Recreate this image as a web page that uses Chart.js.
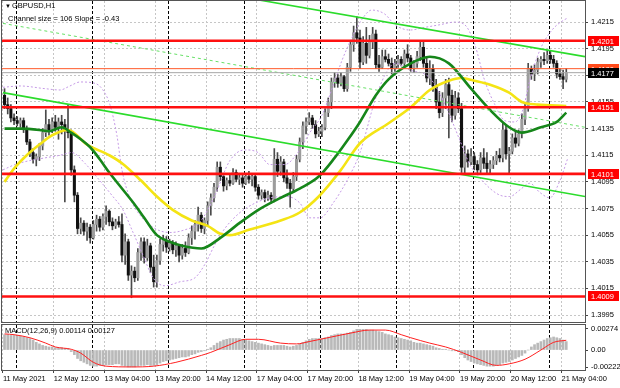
<!DOCTYPE html>
<html>
<head>
<meta charset="utf-8">
<script src="https://cdn.jsdelivr.net/npm/chart.js@4.4.0/dist/chart.umd.min.js"></script>
<style>
    body { margin: 0; background: #fff; }
    #wrap { position: relative; width: 620px; height: 388px; overflow: hidden; }
    #main { position: absolute; left: 0; top: 0; }
    #macd { position: absolute; left: 0; top: 323px; }
</style>
</head>
<body>
<div id="wrap">
    <canvas id="main" width="620" height="324"></canvas>
    <canvas id="macd" width="620" height="65"></canvas>
</div>
<script>
// --- dados (GBPUSD H1, 11 May 20:00 .. 21 May 05:00) ---
const opens = [
    1.4160,1.4153,1.4150,1.4143,1.4141,1.4139,1.4141,1.4135,1.4125,1.4117,
    1.4112,1.4114,1.4122,1.4132,1.4138,1.4134,1.4140,1.4136,1.4140,1.4138,
    1.4134,1.4132,1.4104,1.4085,1.4060,1.4064,1.4058,1.4061,1.4053,1.4063,
    1.4067,1.4061,1.4069,1.4073,1.4065,1.4062,1.4065,1.4063,1.4040,1.4050,
    1.4025,1.4028,1.4023,1.4042,1.4050,1.4038,1.4047,1.4031,1.4020,1.4036,
    1.4048,1.4051,1.4046,1.4049,1.4044,1.4047,1.4040,1.4045,1.4042,1.4053,
    1.4058,1.4063,1.4070,1.4060,1.4066,1.4077,1.4083,1.4091,1.4106,1.4099,
    1.4092,1.4096,1.4094,1.4102,1.4097,1.4098,1.4094,1.4099,1.4097,1.4099,
    1.4091,1.4085,1.4087,1.4083,1.4085,1.4082,1.4112,1.4103,1.4110,1.4098,
    1.4094,1.4090,1.4099,1.4112,1.4125,1.4137,1.4140,1.4143,1.4138,1.4131,
    1.4133,1.4136,1.4147,1.4155,1.4170,1.4173,1.4169,1.4174,1.4165,1.4181,
    1.4198,1.4207,1.4203,1.4185,1.4199,1.4190,1.4200,1.4206,1.4183,1.4181,
    1.4189,1.4187,1.4184,1.4180,1.4183,1.4187,1.4184,1.4191,1.4188,1.4180,
    1.4184,1.4189,1.4196,1.4184,1.4173,1.4180,1.4167,1.4155,1.4147,1.4158,
    1.4168,1.4160,1.4145,1.4158,1.4150,1.4106,1.4116,1.4110,1.4114,1.4108,
    1.4104,1.4113,1.4109,1.4105,1.4108,1.4111,1.4115,1.4113,1.4134,1.4116,
    1.4118,1.4128,1.4124,1.4131,1.4142,1.4150,1.4180,1.4176,1.4179,1.4185,
    1.4187,1.4186,1.4190,1.4187,1.4184,1.4176,1.4174,1.4172
];
const highs = [
    1.4165,1.4158,1.4153,1.4146,1.4144,1.4143,1.4143,1.4137,1.4127,1.4120,
    1.4116,1.4124,1.4135,1.4149,1.4142,1.4143,1.4145,1.4143,1.4145,1.4142,
    1.4153,1.4134,1.4107,1.4087,1.4068,1.4066,1.4064,1.4063,1.4066,1.4070,
    1.4069,1.4071,1.4077,1.4074,1.4068,1.4067,1.4069,1.4071,1.4056,1.4052,
    1.4032,1.4031,1.4045,1.4053,1.4053,1.4052,1.4049,1.4040,1.4040,1.4052,
    1.4055,1.4054,1.4052,1.4051,1.4050,1.4048,1.4048,1.4050,1.4056,1.4062,
    1.4066,1.4076,1.4072,1.4068,1.4080,1.4086,1.4094,1.4110,1.4110,1.4101,
    1.4098,1.4101,1.4105,1.4104,1.4101,1.4100,1.4101,1.4103,1.4101,1.4101,
    1.4093,1.4089,1.4089,1.4088,1.4087,1.4120,1.4117,1.4114,1.4112,1.4104,
    1.4097,1.4102,1.4115,1.4128,1.4140,1.4143,1.4147,1.4145,1.4141,1.4136,
    1.4138,1.4150,1.4158,1.4173,1.4177,1.4176,1.4177,1.4175,1.4184,1.4201,
    1.4212,1.4219,1.4209,1.4204,1.4211,1.4205,1.4211,1.4209,1.4190,1.4194,
    1.4194,1.4191,1.4188,1.4187,1.4190,1.4189,1.4194,1.4198,1.4190,1.4186,
    1.4193,1.4200,1.4200,1.4188,1.4186,1.4183,1.4172,1.4163,1.4162,1.4172,
    1.4173,1.4164,1.4163,1.4162,1.4154,1.4122,1.4119,1.4120,1.4117,1.4111,
    1.4117,1.4120,1.4117,1.4111,1.4114,1.4118,1.4120,1.4139,1.4137,1.4121,
    1.4131,1.4133,1.4134,1.4146,1.4154,1.4184,1.4182,1.4183,1.4188,1.4189,
    1.4192,1.4194,1.4193,1.4190,1.4186,1.4180,1.4179,1.4180
];
const lows = [
    1.4150,1.4146,1.4140,1.4138,1.4137,1.4136,1.4132,1.4123,1.4114,1.4109,
    1.4107,1.4111,1.4119,1.4129,1.4130,1.4132,1.4133,1.4127,1.4131,1.4080,
    1.4128,1.4100,1.4080,1.4056,1.4056,1.4055,1.4051,1.4049,1.4052,1.4058,
    1.4058,1.4059,1.4063,1.4062,1.4059,1.4060,1.4061,1.4035,1.4033,1.4021,
    1.4008,1.4020,1.4021,1.4036,1.4034,1.4036,1.4027,1.4016,1.4016,1.4033,
    1.4043,1.4042,1.4043,1.4041,1.4039,1.4035,1.4037,1.4039,1.4041,1.4048,
    1.4052,1.4058,1.4057,1.4056,1.4062,1.4070,1.4080,1.4088,1.4096,1.4088,
    1.4089,1.4092,1.4093,1.4095,1.4093,1.4091,1.4093,1.4094,1.4092,1.4088,
    1.4082,1.4082,1.4080,1.4081,1.4079,1.4080,1.4099,1.4100,1.4095,1.4090,
    1.4076,1.4087,1.4096,1.4110,1.4120,1.4131,1.4138,1.4135,1.4128,1.4129,
    1.4129,1.4134,1.4144,1.4150,1.4166,1.4166,1.4167,1.4163,1.4163,1.4178,
    1.4193,1.4199,1.4180,1.4183,1.4184,1.4188,1.4195,1.4180,1.4178,1.4180,
    1.4185,1.4182,1.4176,1.4178,1.4181,1.4182,1.4182,1.4185,1.4178,1.4177,
    1.4181,1.4186,1.4181,1.4170,1.4168,1.4163,1.4150,1.4143,1.4144,1.4150,
    1.4128,1.4140,1.4142,1.4147,1.4102,1.4101,1.4106,1.4108,1.4104,1.4101,
    1.4102,1.4105,1.4101,1.4102,1.4105,1.4108,1.4110,1.4110,1.4112,1.4101,
    1.4116,1.4121,1.4122,1.4128,1.4138,1.4148,1.4172,1.4171,1.4176,1.4181,
    1.4183,1.4184,1.4184,1.4181,1.4173,1.4172,1.4165,1.4170
];
const closes = [
    1.4153,1.4150,1.4143,1.4141,1.4139,1.4141,1.4135,1.4125,1.4117,1.4112,
    1.4114,1.4122,1.4132,1.4138,1.4134,1.4140,1.4136,1.4140,1.4138,1.4134,
    1.4132,1.4104,1.4085,1.4060,1.4064,1.4058,1.4061,1.4053,1.4063,1.4067,
    1.4061,1.4069,1.4073,1.4065,1.4062,1.4065,1.4063,1.4040,1.4050,1.4025,
    1.4028,1.4023,1.4042,1.4050,1.4038,1.4047,1.4031,1.4020,1.4036,1.4048,
    1.4051,1.4046,1.4049,1.4044,1.4047,1.4040,1.4045,1.4042,1.4053,1.4058,
    1.4063,1.4070,1.4060,1.4066,1.4077,1.4083,1.4091,1.4106,1.4099,1.4092,
    1.4096,1.4094,1.4102,1.4097,1.4098,1.4094,1.4099,1.4097,1.4099,1.4091,
    1.4085,1.4087,1.4083,1.4085,1.4082,1.4112,1.4103,1.4110,1.4098,1.4094,
    1.4090,1.4099,1.4112,1.4125,1.4137,1.4140,1.4143,1.4138,1.4131,1.4133,
    1.4136,1.4147,1.4155,1.4170,1.4173,1.4169,1.4174,1.4165,1.4181,1.4198,
    1.4207,1.4203,1.4185,1.4199,1.4190,1.4200,1.4206,1.4183,1.4181,1.4189,
    1.4187,1.4184,1.4180,1.4183,1.4187,1.4184,1.4191,1.4188,1.4180,1.4184,
    1.4189,1.4196,1.4184,1.4173,1.4180,1.4167,1.4155,1.4147,1.4158,1.4168,
    1.4160,1.4145,1.4158,1.4150,1.4106,1.4116,1.4110,1.4114,1.4108,1.4104,
    1.4113,1.4109,1.4105,1.4108,1.4111,1.4115,1.4113,1.4134,1.4116,1.4118,
    1.4128,1.4124,1.4131,1.4142,1.4150,1.4180,1.4176,1.4179,1.4185,1.4187,
    1.4186,1.4190,1.4187,1.4184,1.4176,1.4174,1.4172,1.4177
];

// medias moveis
const maFastIdx = [0,5,11,14,18,21,24,27,30,33,37,41,44,48,52,56,62,68,74,80,87,93,99,104,108,112,117,121,128,134,140,147,153,159,163,169,174,177];
const maFastVal = [1.4135,1.4135,1.4134,1.4133,1.4136,1.4132,1.4127,1.4121,1.4112,1.4102,1.4090,1.4078,1.4068,1.4055,1.4050,1.4047,1.4045,1.4053,1.4064,1.4074,1.4083,1.4090,1.4099,1.4113,1.4126,1.4140,1.4160,1.4172,1.4184,1.4189,1.4184,1.4165,1.4149,1.4136,1.4132,1.4136,1.4140,1.4147];
const maSlowIdx = [0,3,7,11,15,20,26,33,37,43,48,53,59,64,68,71,77,87,93,99,106,112,121,128,134,140,144,148,153,159,163,168,177];
const maSlowVal = [1.4095,1.4105,1.4115,1.4123,1.4130,1.4134,1.4123,1.4115,1.4109,1.4096,1.4084,1.4074,1.4066,1.4062,1.4056,1.4055,1.4059,1.4066,1.4072,1.4084,1.4104,1.4124,1.4139,1.4151,1.4164,1.4171,1.4173,1.4171,1.4168,1.4162,1.4155,1.4153,1.4152];

// bandas (tracejado lilas)
const bandUpIdx = [-0.5,4.9,12.7,17.5,20.6,23.8,28.5,31,33.2,35.4,37,39.5,42.7,47.4,52.1,56.8,61.6,66.3,71,75.7,79.9,83.6,88.3,92.4,96.2,100,103.2,106.3,109.4,112.6,115.7,119.8,123,127.7,132.4,137.2,141.9,145,148.2,151.3,154.5,157.6,160.8,163.3,165.5,168.7,172.5,176.6,177.5];
const bandUpVal = [1.4166,1.4167,1.4165,1.4164,1.4167,1.4170,1.4169,1.4164,1.4153,1.4130,1.4104,1.4083,1.4070,1.4060,1.4057,1.4059,1.4065,1.4085,1.4111,1.4119,1.4117,1.4108,1.4108,1.4117,1.4132,1.4145,1.4165,1.4186,1.4203,1.4217,1.4224,1.4221,1.4213,1.4209,1.4211,1.4213,1.4215,1.4213,1.4198,1.4171,1.4153,1.4141,1.4140,1.4149,1.4171,1.4194,1.4209,1.4217,1.4218];
const bandLoIdx = [-0.5,3.3,8,12.7,17.5,21.2,25.3,30,33.8,37.3,40.5,43.6,46.8,50.5,55.3,60,63.1,66.3,69.4,74.2,78.9,83.6,89,93.1,96.2,99.4,103.5,107.9,112,116.7,119.8,123,127.7,134,138.8,143.5,146.6,149.8,153,156.1,159.2,162.4,165.5,168.7,171.8,175,177.5];
const bandLoVal = [1.4104,1.4108,1.4111,1.4113,1.4115,1.4117,1.4109,1.4096,1.4085,1.4074,1.4057,1.4040,1.4023,1.4017,1.4020,1.4023,1.4033,1.4048,1.4060,1.4072,1.4079,1.4083,1.4084,1.4079,1.4068,1.4068,1.4079,1.4096,1.4117,1.4156,1.4175,1.4184,1.4179,1.4173,1.4153,1.4126,1.4108,1.4098,1.4090,1.4085,1.4084,1.4089,1.4094,1.4087,1.4083,1.4096,1.4113];

// canal de regressao
const chanIdx = [-0.5, 182.9];
const chanTop = [1.4265, 1.4189];
const chanMid = [1.4214, 1.4136];
const chanBot = [1.4162, 1.4084];

// niveis horizontais
const levels = [1.4201, 1.4151, 1.4101, 1.4009];
const askPrice = 1.4180;
const bidPrice = 1.4177;

// MACD(12,26,9)
const macdHist = [
    0.0020,0.0020,0.0019,0.0019,0.0019,0.0018,0.0017,0.0016,0.0015,0.0013,
    0.0010,0.0008,0.0006,0.0005,0.0004,0.0004,0.0003,0.0003,0.0003,0.0002,
    0.0002,-0.0002,-0.0006,-0.0011,-0.0014,-0.0016,-0.0018,-0.0020,-0.0021,-0.0021,
    -0.0020,-0.0020,-0.0019,-0.0019,-0.0019,-0.0018,-0.0018,-0.0020,-0.0021,-0.0022,
    -0.0022,-0.0022,-0.0021,-0.0020,-0.0020,-0.0019,-0.0020,-0.0020,-0.0019,-0.0017,
    -0.0015,-0.0014,-0.0013,-0.0012,-0.0011,-0.0010,-0.0009,-0.0009,-0.0008,-0.0006,
    -0.0005,-0.0003,-0.0002,-0.0001,0.0001,0.0003,0.0006,0.0009,0.0011,0.0013,
    0.0014,0.0015,0.0015,0.0015,0.0015,0.0014,0.0013,0.0012,0.0011,0.0010,
    0.0009,0.0008,0.0007,0.0006,0.0005,0.0006,0.0006,0.0006,0.0006,0.0005,
    0.0004,0.0005,0.0006,0.0008,0.0010,0.0012,0.0014,0.0015,0.0015,0.0015,
    0.0015,0.0016,0.0017,0.0019,0.0020,0.0021,0.0021,0.0021,0.0022,0.0023,
    0.0025,0.0027,0.0027,0.0027,0.0027,0.0026,0.0026,0.0025,0.0024,0.0023,
    0.0021,0.0020,0.0019,0.0017,0.0016,0.0015,0.0014,0.0013,0.0012,0.0010,
    0.0009,0.0009,0.0008,0.0007,0.0006,0.0005,0.0003,0.0002,0.0001,0.0001,
    0.0000,-0.0001,-0.0001,-0.0002,-0.0006,-0.0010,-0.0013,-0.0015,-0.0017,-0.0018,
    -0.0019,-0.0020,-0.0021,-0.0021,-0.0021,-0.0020,-0.0019,-0.0017,-0.0016,-0.0015,
    -0.0013,-0.0011,-0.0009,-0.0007,-0.0004,0.0000,0.0004,0.0007,0.0009,0.0011,
    0.0013,0.0015,0.0016,0.0017,0.0016,0.0015,0.0013,0.0011
];
const signalIdx = [0,3,8,13,16,21,24,28,32,40,47,54,62,65,71,76,80,87,92,96,103,109,115,120,125,128,134,139,144,150,155,159,164,169,173,177];
const signalVal = [0.0021,0.0020,0.0016,0.0009,0.0004,0.0001,-0.0004,-0.0016,-0.0021,-0.0022,-0.0021,-0.0016,-0.0007,-0.0003,0.0007,0.0014,0.0014,0.0009,0.0008,0.0011,0.0017,0.0022,0.0026,0.0026,0.0020,0.0016,0.0009,0.0004,-0.0003,-0.0013,-0.0020,-0.0018,-0.0012,0.0000,0.0010,0.00127];

// eixos
const priceTicks = [1.3995,1.4015,1.4035,1.4055,1.4075,1.4095,1.4115,1.4135,1.4155,1.4175,1.4195,1.4215];
const macdTicks = [-0.00222, 0, 0.00274];
const macdTickText = ['-0.00222', '0.00', '0.00274'];
const xTickIdx = [0,16,32,48,64,80,96,112,128,144,160,176];
const xTickText = ['11 May 2021','12 May 12:00','13 May 04:00','13 May 20:00','14 May 12:00','17 May 04:00','17 May 20:00','18 May 12:00','19 May 04:00','19 May 20:00','20 May 12:00','21 May 04:00'];
const dayStarts = [4,28,52,76,100,124,148,172];

const xMin = -0.8, xMax = 182.9;
const yMin = 1.39898, yMax = 1.42308;
const macdMin = -0.0026, macdMax = 0.00326;

const FONT = '"Liberation Sans", Arial, sans-serif';
const idx = closes.map((_, i) => i);

function series(xs, ys) {
    return xs.map((x, k) => ({ x: x, y: ys[k] }));
}
function lineSet(data, color, width, dash, order, smooth) {
    return {
        type: 'line', data: data, borderColor: color, borderWidth: width,
        borderDash: dash || [], pointRadius: 0, fill: false, tension: 0,
        cubicInterpolationMode: smooth ? 'monotone' : 'default', order: order
    };
}

// Separadores de dia (pontilhado preto)
const daySeparators = {
    id: 'daySeparators',
    beforeDatasetsDraw(chart) {
        const { ctx, chartArea: a } = chart;
        const x = chart.scales.x;
        ctx.save();
        ctx.strokeStyle = '#000';
        ctx.lineWidth = 1;
        ctx.setLineDash([3, 2]);
        dayStarts.forEach(d => {
            const px = Math.round(x.getPixelForValue(d - 0.5)) + 0.5;
            ctx.beginPath();
            ctx.moveTo(px, a.top);
            ctx.lineTo(px, a.bottom);
            ctx.stroke();
        });
        ctx.restore();
    }
};

// Moldura
const frame = {
    id: 'frame',
    afterDatasetsDraw(chart) {
        const { ctx, chartArea: a } = chart;
        ctx.save();
        ctx.strokeStyle = '#555';
        ctx.lineWidth = 1;
        ctx.strokeRect(Math.round(a.left) - 0.5, Math.round(a.top) - 0.5, Math.round(a.right - a.left) + 1, Math.round(a.bottom - a.top) + 1);
        ctx.restore();
    }
};

// Textos e etiquetas de preco
const mainLabels = {
    id: 'mainLabels',
    afterDraw(chart) {
        const { ctx, chartArea: a } = chart;
        const y = chart.scales.y;
        ctx.save();
        ctx.textBaseline = 'middle';
        ctx.fillStyle = '#000';
        ctx.font = '6px ' + FONT;
        ctx.fillText('▼', 5, 6);
        ctx.font = '7.5px ' + FONT;
        ctx.fillText('GBPUSD,H1', 12, 6);
        ctx.fillText('Channel size = 106 Slope = -0.43', 8, 19);

        const tags = levels.map(v => ({ v: v, bg: '#ff0000' }));
        tags.push({ v: askPrice, bg: '#ff4a1a' });
        tags.push({ v: bidPrice, bg: '#000000' });
        tags.forEach(t => {
            const py = Math.round(y.getPixelForValue(t.v));
            ctx.fillStyle = t.bg;
            ctx.fillRect(a.right + 3, py - 5, chart.width - a.right - 4, 10);
            ctx.fillStyle = '#fff';
            ctx.fillText(t.v.toFixed(4), a.right + 6, py + 0.5);
        });
        ctx.restore();
    }
};

const macdLabel = {
    id: 'macdLabel',
    afterDraw(chart) {
        const ctx = chart.ctx;
        ctx.save();
        ctx.font = '7.5px ' + FONT;
        ctx.fillStyle = '#000';
        ctx.textBaseline = 'middle';
        ctx.fillText('MACD(12,26,9) 0.00114 0.00127', 5, 8);
        ctx.restore();
    }
};

function xScale(showLabels) {
    return {
        type: 'linear', min: xMin, max: xMax, offset: false,
        afterBuildTicks: ax => { ax.ticks = xTickIdx.map(i => ({ value: i - 0.5 })); },
        afterFit: s => {
            s.paddingLeft = 0; s.paddingRight = 0;
            if (!showLabels) s.height = 0; else s.height = 18;
        },
        ticks: {
            display: showLabels, autoSkip: false, maxRotation: 0, align: 'start', padding: 1,
            color: '#000', font: { family: FONT, size: 7.5 },
            callback: (v, k) => xTickText[k]
        },
        grid: { color: '#c6c6c6', offset: false, drawTicks: showLabels, tickLength: 3, tickColor: '#444' },
        border: { display: false, dash: [2, 2] }
    };
}

Chart.defaults.font.family = FONT;

new Chart(document.getElementById('main'), {
    type: 'line',
    data: {
        datasets: [
            ...levels.map(v => lineSet(series([xMin, xMax], [v, v]), '#ff1010', 2.6, null, 1)),
            lineSet(series([xMin, xMax], [askPrice, askPrice]), '#ff5a2a', 1, null, 2),
            lineSet(series([xMin, xMax], [bidPrice, bidPrice]), '#a8a8a8', 1, null, 2),
            lineSet(series(chanIdx, chanTop), '#2bdc2b', 1.6, null, 2),
            lineSet(series(chanIdx, chanBot), '#2bdc2b', 1.6, null, 2),
            lineSet(series(chanIdx, chanMid), '#66e066', 1, [3, 3], 2),
            lineSet(series(maFastIdx, maFastVal), '#16861a', 2.6, null, 3, true),
            lineSet(series(maSlowIdx, maSlowVal), '#f4e414', 2.6, null, 3, true),
            lineSet(series(bandUpIdx, bandUpVal), '#c59ae6', 1, [2, 2], 4, true),
            lineSet(series(bandLoIdx, bandLoVal), '#c59ae6', 1, [2, 2], 4, true),
            {
                type: 'bar', order: 5, grouped: false, barThickness: 2.4, minBarLength: 1,
                data: idx.map(i => ({ x: i, y: [opens[i], closes[i]] })),
                backgroundColor: idx.map(i => closes[i] >= opens[i] ? '#9c9c9c' : '#111111')
            },
            {
                type: 'bar', order: 6, grouped: false, barThickness: 1,
                data: idx.map(i => ({ x: i, y: [lows[i], highs[i]] })),
                backgroundColor: '#4a4a4a'
            }
        ]
    },
    options: {
        responsive: false, animation: false, events: [],
        layout: { padding: { left: 2, top: 1, right: 0, bottom: 2 } },
        plugins: { legend: { display: false }, tooltip: { enabled: false } },
        scales: {
            x: xScale(false),
            y: {
                position: 'right', min: yMin, max: yMax,
                afterBuildTicks: ax => { ax.ticks = priceTicks.map(v => ({ value: v })); },
                afterFit: s => { s.width = 35; s.paddingTop = 0; s.paddingBottom = 0; },
                ticks: { color: '#000', font: { family: FONT, size: 7.5 }, padding: 3, callback: v => v.toFixed(4) },
                grid: { color: '#c6c6c6', tickLength: 3, tickColor: '#444' },
                border: { display: false, dash: [2, 2] }
            }
        }
    },
    plugins: [daySeparators, frame, mainLabels]
});

new Chart(document.getElementById('macd'), {
    type: 'line',
    data: {
        datasets: [
            lineSet(series(signalIdx, signalVal), '#ff2020', 1, null, 1, true),
            {
                type: 'bar', order: 2, barThickness: 2,
                data: idx.map(i => ({ x: i, y: macdHist[i] })),
                backgroundColor: '#b9b9b9'
            }
        ]
    },
    options: {
        responsive: false, animation: false, events: [],
        layout: { padding: { left: 2, top: 2, right: 0, bottom: 0 } },
        plugins: { legend: { display: false }, tooltip: { enabled: false } },
        scales: {
            x: xScale(true),
            y: {
                position: 'right', min: macdMin, max: macdMax,
                afterBuildTicks: ax => { ax.ticks = macdTicks.map(v => ({ value: v })); },
                afterFit: s => { s.width = 35; s.paddingTop = 0; s.paddingBottom = 0; },
                ticks: { color: '#000', font: { family: FONT, size: 7.5 }, padding: 3, callback: (v, k) => macdTickText[k] },
                grid: { drawOnChartArea: false, tickLength: 3, tickColor: '#444' },
                border: { display: false }
            }
        }
    },
    plugins: [daySeparators, frame, macdLabel]
});
</script>
</body>
</html>
